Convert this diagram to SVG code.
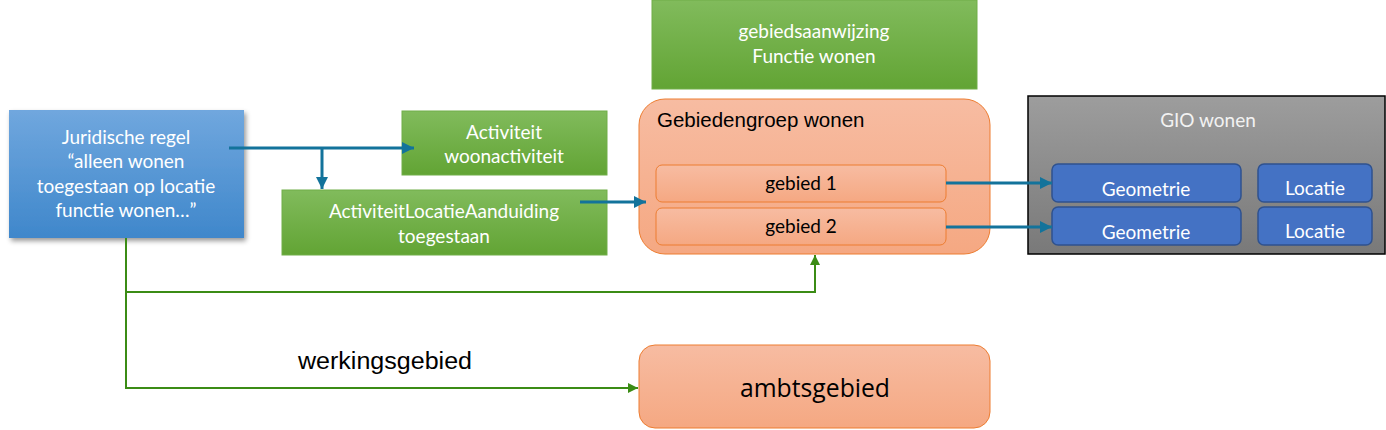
<svg xmlns="http://www.w3.org/2000/svg" width="1386" height="430" viewBox="0 0 1386 430">
<defs>
<linearGradient id="gBlue" x1="0" y1="0" x2="0" y2="1"><stop offset="0" stop-color="#70a7de"/><stop offset="1" stop-color="#3f87cb"/></linearGradient>
<linearGradient id="gGreen" x1="0" y1="0" x2="0" y2="1"><stop offset="0" stop-color="#81bb5c"/><stop offset="1" stop-color="#62a434"/></linearGradient>
<linearGradient id="gOrange" x1="0" y1="0" x2="0" y2="1"><stop offset="0" stop-color="#f7bca2"/><stop offset="1" stop-color="#f5a882"/></linearGradient>
<linearGradient id="gGray" x1="0" y1="0" x2="0" y2="1"><stop offset="0" stop-color="#9d9d9d"/><stop offset="1" stop-color="#797979"/></linearGradient>
<filter id="sh" x="-10%" y="-10%" width="130%" height="130%"><feDropShadow dx="2" dy="3" stdDeviation="2.5" flood-color="#000" flood-opacity="0.4"/></filter>
<marker id="aB" viewBox="0 0 10 10" refX="10" refY="5" markerWidth="4" markerHeight="4" orient="auto" markerUnits="strokeWidth"><path d="M0,0 L10,5 L0,10 z" fill="#13739b"/></marker>
<marker id="aG" viewBox="0 0 10 10" refX="10" refY="5" markerWidth="5" markerHeight="5" orient="auto" markerUnits="strokeWidth"><path d="M0,0 L10,5 L0,10 z" fill="#3b8c15"/></marker>
</defs>
<style>
.t{font-family:Lato,"Open Sans","Liberation Sans",sans-serif;fill:#fff;text-anchor:middle}
.k{font-family:"Liberation Sans",Arial,sans-serif;fill:#000}
.green{fill:url(#gGreen);stroke:#71ae48;stroke-width:1}
.cb{fill:none;stroke:#13739b;stroke-width:3}
.cg{fill:none;stroke:#3b8c15;stroke-width:2}
.geo{fill:#4472c4;stroke:#2f528f;stroke-width:1.5}
</style>
<g id="regel">
<rect x="9" y="110" width="235" height="128" fill="url(#gBlue)" filter="url(#sh)"/>
<text class="t" font-size="19"><tspan x="126" y="144">Juridische regel</tspan><tspan x="126" y="168">“alleen wonen</tspan><tspan x="126" y="193">toegestaan op locatie</tspan><tspan x="126" y="217">functie wonen…”</tspan></text>
</g>
<g id="activiteit">
<rect class="green" x="402" y="111" width="205" height="64"/>
<text class="t" font-size="19"><tspan x="504" y="139">Activiteit</tspan><tspan x="504" y="163">woonactiviteit</tspan></text>
</g>
<g id="ala">
<rect class="green" x="282" y="190" width="325" height="65"/>
<text class="t" font-size="19"><tspan x="444" y="218">ActiviteitLocatieAanduiding</tspan><tspan x="444" y="243">toegestaan</tspan></text>
</g>
<g id="gebiedsaanwijzing">
<rect class="green" x="652" y="0" width="325" height="89"/>
<text class="t" font-size="19"><tspan x="814" y="38">gebiedsaanwijzing</tspan><tspan x="814" y="63">Functie wonen</tspan></text>
</g>
<g id="gebiedengroep">
<rect x="639" y="99" width="351" height="155" rx="26" fill="url(#gOrange)" stroke="#ed7d31" stroke-width="1"/>
<text class="k" x="657" y="127" font-size="20.5">Gebiedengroep wonen</text>
</g>
<g id="gebied1">
<rect x="656" y="165" width="290" height="37" rx="6" fill="url(#gOrange)" stroke="#ed7d31" stroke-width="1"/>
<text class="t" x="801" y="190" font-size="19" style="fill:#000">gebied 1</text>
</g>
<g id="gebied2">
<rect x="656" y="208" width="290" height="37" rx="6" fill="url(#gOrange)" stroke="#ed7d31" stroke-width="1"/>
<text class="t" x="801" y="233" font-size="19" style="fill:#000">gebied 2</text>
</g>
<g id="gio">
<rect x="1028" y="96" width="357" height="158" fill="url(#gGray)" stroke="#000" stroke-width="1.5"/>
<text class="t" x="1208" y="127" font-size="19" style="fill:#f2f2f2">GIO wonen</text>
</g>
<g id="geometrie1">
<rect class="geo" x="1052" y="164" width="189" height="38" rx="6"/>
<text class="t" x="1146" y="196" font-size="19">Geometrie</text>
</g>
<g id="locatie1">
<rect class="geo" x="1258" y="164" width="114" height="38" rx="6"/>
<text class="t" x="1315" y="195" font-size="19">Locatie</text>
</g>
<g id="geometrie2">
<rect class="geo" x="1052" y="207" width="189" height="38" rx="6"/>
<text class="t" x="1146" y="239" font-size="19">Geometrie</text>
</g>
<g id="locatie2">
<rect class="geo" x="1258" y="207" width="114" height="38" rx="6"/>
<text class="t" x="1315" y="238" font-size="19">Locatie</text>
</g>
<g id="ambtsgebied">
<rect x="639" y="345" width="351" height="83" rx="16" fill="url(#gOrange)" stroke="#ed7d31" stroke-width="1"/>
<text class="t" x="815" y="397" font-size="26" style="fill:#000;font-family:'Open Sans','Liberation Sans',sans-serif" textLength="150" lengthAdjust="spacingAndGlyphs">ambtsgebied</text>
</g>
<g id="connectors">
<path class="cb" d="M229,148 H414" marker-end="url(#aB)"/>
<path class="cb" d="M322,148 V189" marker-end="url(#aB)"/>
<path class="cb" d="M580,202 H646" marker-end="url(#aB)"/>
<path class="cb" d="M946,183 H1052" marker-end="url(#aB)"/>
<path class="cb" d="M946,227 H1052" marker-end="url(#aB)"/>
<path class="cg" d="M126,238 V388 H638" marker-end="url(#aG)"/>
<path class="cg" d="M126,292 H815 V255" marker-end="url(#aG)"/>
<text class="k" x="298" y="369" font-size="23" textLength="174" lengthAdjust="spacingAndGlyphs">werkingsgebied</text>
</g>
</svg>
